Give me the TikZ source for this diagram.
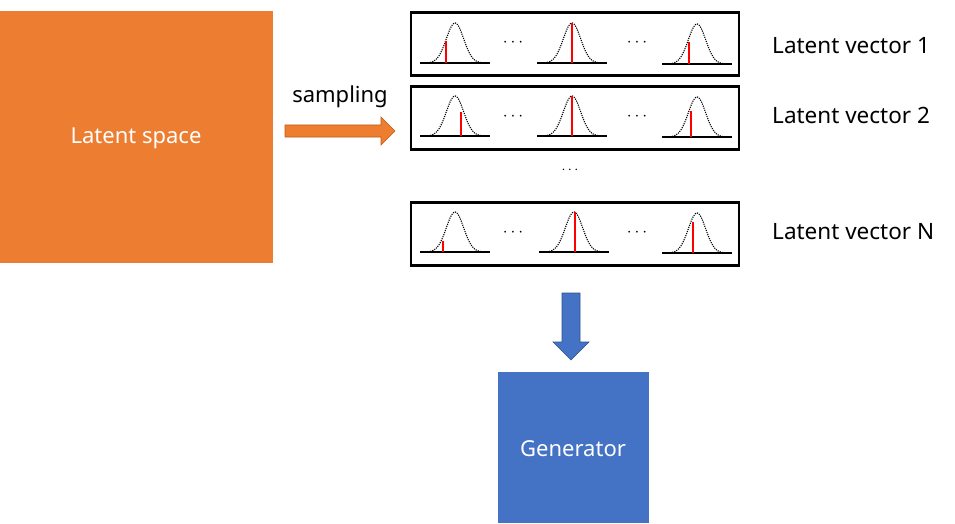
\documentclass[tikz,border=0pt]{standalone}
\usepackage{fontspec}
\setmainfont{Noto Sans}
\definecolor{orng}{HTML}{ED7D31}
\definecolor{orngd}{HTML}{C55A11}
\definecolor{blu}{HTML}{4472C4}
\definecolor{blud}{HTML}{2F528F}
\definecolor{redline}{HTML}{FF0000}
\begin{document}
\begin{tikzpicture}[x=1pt,y=-1pt,
  bigbox/.style={draw=none,inner sep=0pt,font=\fontsize{22}{26}\selectfont,text=white},
  vecbox/.style={draw=black,line width=2.6pt,minimum width=328pt,minimum height=63pt,inner sep=0pt},
  lab/.style={font=\fontsize{22.5}{26}\selectfont,anchor=west,inner sep=0pt},
  gcurve/.style={line width=1.1pt,dash pattern=on 1.1pt off 1.1pt},
  base/.style={line width=1.2pt},
  samp/.style={draw=redline,line width=1.4pt}]
\useasboundingbox (0,0) rectangle (955,524);
% latent space
\fill[orng] (0,11) rectangle (273,263);
\node[bigbox] (ls) at (136,138) {Latent space};
% sampling arrow
\node[font=\fontsize{22}{26}\selectfont,inner sep=0pt] (samptext) at (340,97) {sampling};
\draw[orngd,fill=orng,line width=0.6pt] (285,125) -- (381,125) -- (381,117) -- (395,131) -- (381,145) -- (381,137) -- (285,137) -- cycle;
% vector boxes
\node[vecbox] (v1) at (575,44) {};
\node[vecbox] (v2) at (575,118) {};
\node[vecbox] (vN) at (575,234) {};
\node[lab] (l1) at (772,46) {Latent vector 1};
\node[lab] (l2) at (772,115) {Latent vector 2};
\node[lab] (lN) at (772,232) {Latent vector N};
\node[font=\fontsize{15}{16}\selectfont,inner sep=0pt] (vdots) at (570,170) {$\cdots$};
% gaussians: {cx}{baseline y}{sample offset}{sample height}
\newcommand{\gaussplot}[4]{%
  \draw[base] (#1-35,#2) -- (#1+35,#2);
  \draw[gcurve,domain=-27:27,samples=60,smooth] plot ({#1+\x},{#2-40*exp(-(\x*\x)/150)});
  \draw[samp] (#1+#3,#2) -- (#1+#3,{#2-#4});
}
% box 1
\gaussplot{455}{63}{-9}{22}
\gaussplot{572}{63}{0}{40}
\gaussplot{697}{64}{-8}{22}
% box 2
\gaussplot{455}{136}{6}{24}
\gaussplot{572}{136}{0}{40}
\gaussplot{697}{137}{-6}{26}
% box N
\gaussplot{455}{252}{-12}{11}
\gaussplot{574}{252}{1}{40}
\gaussplot{697}{253}{-4}{31}
% dots inside boxes
\foreach \yy in {43,117,233}{
  \node[font=\fontsize{17}{18}\selectfont,inner sep=0pt] at (513,\yy) {$\cdots$};
  \node[font=\fontsize{17}{18}\selectfont,inner sep=0pt] at (637,\yy) {$\cdots$};
}
% down arrow
\draw[blud,fill=blu,line width=0.6pt] (562,293) -- (580,293) -- (580,342) -- (589,342) -- (571,360) -- (553,342) -- (562,342) -- cycle;
% generator
\fill[blu] (498,372) rectangle (649,523);
\node[bigbox] (gen) at (573,449) {Generator};
\end{tikzpicture}
\end{document}
